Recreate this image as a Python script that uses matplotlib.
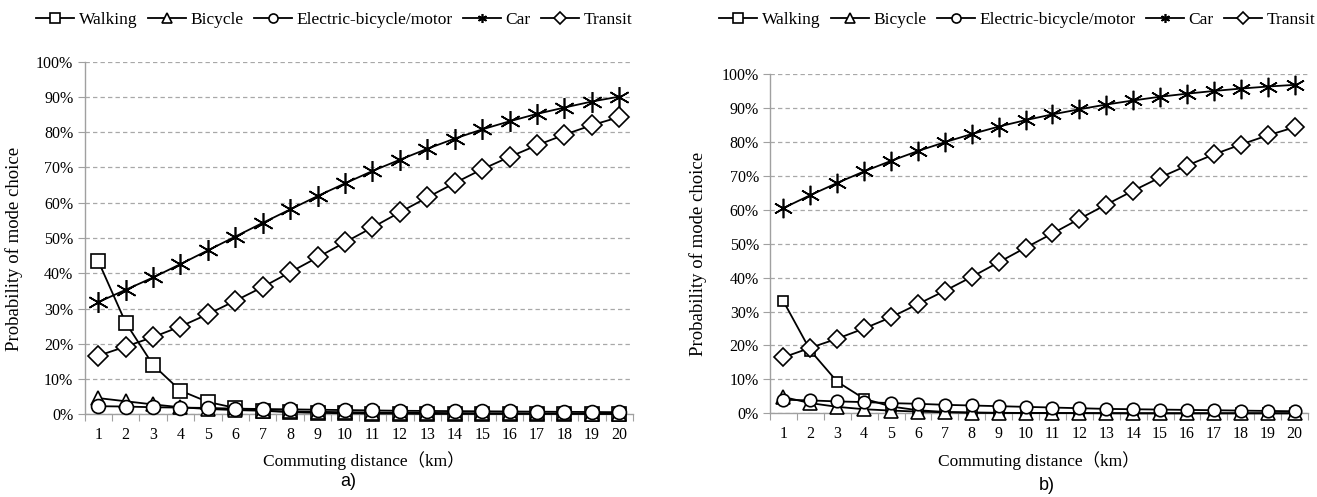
import matplotlib
matplotlib.use("Agg")
import matplotlib.pyplot as plt
from matplotlib.ticker import FixedLocator, NullFormatter, FuncFormatter
from matplotlib.legend_handler import HandlerLine2D

distance = list(range(1, 21))
series_names = ["Walking", "Bicycle", "Electric-bicycle/motor", "Car", "Transit"]

# Panel a)
walk_a = [43.5, 26.0, 14.0, 6.7, 3.5, 1.8, 1.0, 0.6, 0.4, 0.3, 0.2, 0.2, 0.1, 0.1, 0.1, 0.1, 0.1, 0.1, 0.1, 0.1]
bike_a = [4.6, 3.7, 2.8, 2.0, 1.5, 1.2, 1.0, 0.8, 0.7, 0.6, 0.5, 0.45, 0.4, 0.35, 0.3, 0.3, 0.25, 0.25, 0.2, 0.2]
ebike_a = [2.3, 2.2, 2.0, 1.9, 1.8, 1.6, 1.5, 1.4, 1.3, 1.2, 1.1, 1.0, 0.95, 0.9, 0.85, 0.8, 0.75, 0.7, 0.65, 0.6]
car_a = [31.8, 35.3, 38.8, 42.6, 46.5, 50.4, 54.3, 58.1, 61.9, 65.5, 69.0, 72.2, 75.3, 78.2, 80.8, 83.1, 85.2, 87.0, 88.7, 90.1]
transit_a = [16.6, 19.2, 21.9, 24.9, 28.4, 32.2, 36.1, 40.3, 44.5, 48.8, 53.0, 57.3, 61.5, 65.6, 69.5, 73.0, 76.3, 79.3, 82.0, 84.3]

# Panel b)
walk_b = [33.0, 18.5, 9.3, 4.3, 2.0, 0.9, 0.4, 0.2, 0.1, 0.1, 0.05, 0.05, 0.0, 0.0, 0.0, 0.0, 0.0, 0.0, 0.0, 0.0]
bike_b = [4.8, 3.0, 1.9, 1.2, 0.8, 0.5, 0.3, 0.2, 0.15, 0.1, 0.1, 0.05, 0.05, 0.0, 0.0, 0.0, 0.0, 0.0, 0.0, 0.0]
ebike_b = [4.0, 3.8, 3.5, 3.3, 3.0, 2.8, 2.5, 2.3, 2.1, 1.9, 1.7, 1.5, 1.3, 1.2, 1.1, 1.0, 0.9, 0.8, 0.7, 0.6]
car_b = [60.5, 64.3, 67.9, 71.3, 74.4, 77.3, 79.9, 82.3, 84.5, 86.4, 88.1, 89.6, 91.0, 92.2, 93.3, 94.2, 95.0, 95.7, 96.3, 96.8]
transit_b = [16.5, 19.3, 22.0, 25.0, 28.3, 32.2, 36.1, 40.2, 44.5, 48.8, 53.0, 57.3, 61.5, 65.6, 69.5, 73.0, 76.3, 79.2, 81.9, 84.3]

y_ticks = [0, 10, 20, 30, 40, 50, 60, 70, 80, 90, 100]
panel_labels = ["a)", "b)"]

SERIF = ["Liberation Serif", "Noto Sans CJK SC", "DejaVu Sans"]
GRAY = "#a0a0a0"

fig = plt.figure(figsize=(13.17, 4.97), dpi=100)
W, H = 1317, 497

def axes_from_px(x0, x1, ytop, ybot):
    return fig.add_axes([x0 / W, 1 - ybot / H, (x1 - x0) / W, (ybot - ytop) / H])

axA = axes_from_px(84.5, 633, 61.7, 414.3)
axB = axes_from_px(770, 1308, 74, 413.3)

STAR = (6, 2, 0)
markers = ["s", "^", "o", STAR, "D"]

def draw(ax, data, msizes):
    handles = []
    for name, vals, m, ms in zip(series_names, data, markers, msizes):
        is_star = m == STAR
        h, = ax.plot(distance, vals, color="black", lw=1.3, marker=m, markersize=ms,
                     markerfacecolor="black" if is_star else "white",
                     markeredgecolor="black", markeredgewidth=1.2,
                     label=name, clip_on=False, zorder=3)
        handles.append(h)
    ax.set_xlim(0.5, 20.5)
    ax.set_ylim(0, 100)
    ax.xaxis.set_major_locator(FixedLocator([i + 0.5 for i in range(0, 21)]))
    ax.xaxis.set_major_formatter(NullFormatter())
    ax.xaxis.set_minor_locator(FixedLocator(distance))
    ax.xaxis.set_minor_formatter(FuncFormatter(lambda v, p: f"{int(round(v))}"))
    ax.tick_params(axis="x", which="major", length=5, color=GRAY, direction="out")
    ax.tick_params(axis="x", which="minor", length=0, pad=9, labelsize=11.5)
    ax.set_yticks(y_ticks)
    ax.set_yticklabels([f"{t}%" for t in y_ticks])
    ax.tick_params(axis="y", length=5, color=GRAY, direction="out", labelsize=11.5, pad=3)
    for lab in ax.get_xticklabels(which="minor") + ax.get_yticklabels():
        lab.set_family(SERIF)
    ax.grid(axis="y", color="#a8a8a8", ls=(0, (3.5, 2.5)), lw=0.9)
    ax.set_axisbelow(True)
    for s in ["top", "right"]:
        ax.spines[s].set_visible(False)
    for s in ["left", "bottom"]:
        ax.spines[s].set_color(GRAY)
        ax.spines[s].set_linewidth(1.0)
    ax.set_xlabel("Commuting distance（km）", family=SERIF, fontsize=12.5)
    ax.set_ylabel("Probability of mode choice", family=SERIF, fontsize=13.5)
    return handles

hA = draw(axA, [walk_a, bike_a, ebike_a, car_a, transit_a], [10, 10, 10, 15, 10])
hB = draw(axB, [walk_b, bike_b, ebike_b, car_b, transit_b], [6.5, 10, 9, 14, 9.5])

axA.yaxis.set_label_coords(-0.112, 0.47)
axB.yaxis.set_label_coords(-0.117, 0.47)
axA.xaxis.set_label_coords(0.51, -0.105)
axB.xaxis.set_label_coords(0.5, -0.112)

for handles, cx in [(hA, 334), (hB, 1017)]:
    leg = fig.legend(handles=handles, loc="center", bbox_to_anchor=(cx / W, 1 - 20 / H), ncol=5,
                     frameon=False, handlelength=2.2, handletextpad=0.25, columnspacing=0.6,
                     prop={"family": SERIF, "size": 12.5},
                     handler_map={h: HandlerLine2D(marker_pad=0) for h in handles})
    for lh in leg.legend_handles:
        lh.set_markersize(6.5)

fig.text(348 / W, 1 - 482 / H, panel_labels[0], ha="center", va="center",
         family=["Liberation Sans Narrow", "Liberation Sans"], fontsize=13)
fig.text(1047 / W, 1 - 485 / H, panel_labels[1], ha="center", va="center",
         family=["Liberation Sans Narrow", "Liberation Sans"], fontsize=13)

fig.savefig("out.png", dpi=100)
